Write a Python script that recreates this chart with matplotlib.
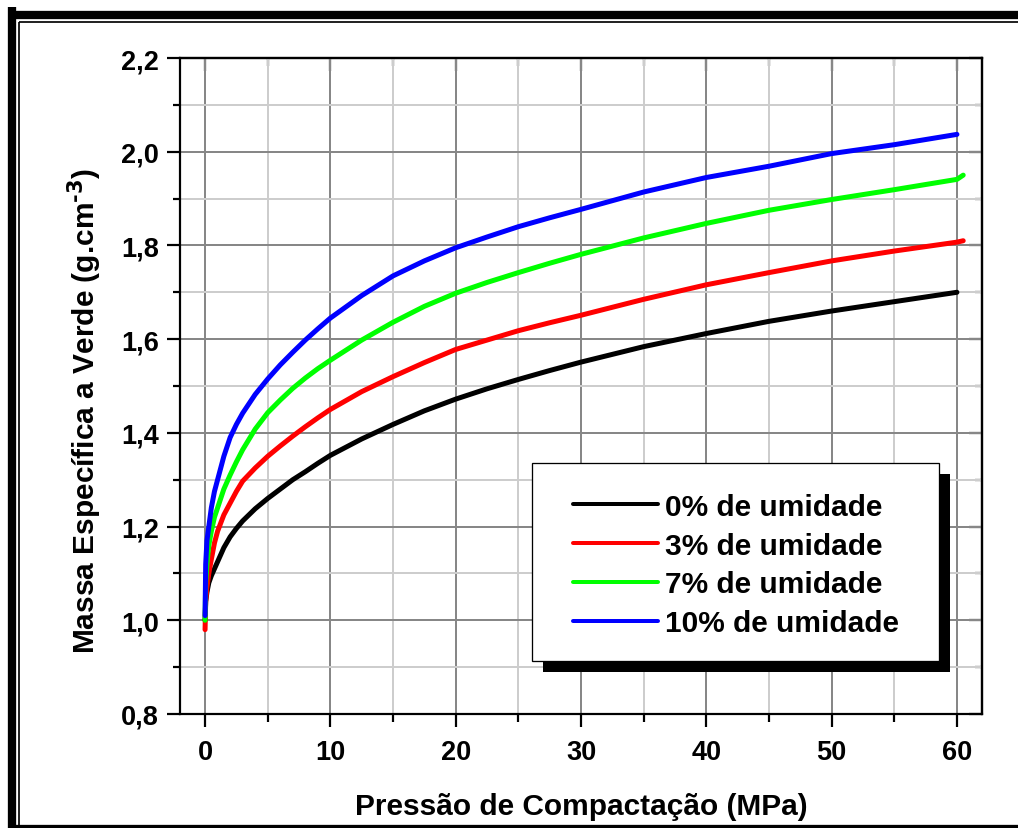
import matplotlib
matplotlib.use("Agg")
import matplotlib.pyplot as plt
from matplotlib.lines import Line2D
from matplotlib.patches import Rectangle
from matplotlib.ticker import MultipleLocator

# Compaction pressure (MPa) and green density (g/cm3) for each moisture content
pressure = [0, 0.05, 0.15, 0.3, 0.5, 0.75, 1, 1.5, 2, 2.5, 3, 4, 5, 6, 7, 8,
            9, 10, 12.5, 15, 17.5, 20, 22.5, 25, 27.5, 30, 35, 40, 45, 50, 55, 60]
dens_0 = [1.00, 1.04, 1.06, 1.08, 1.095, 1.11, 1.125, 1.155, 1.178, 1.196,
          1.212, 1.238, 1.26, 1.28, 1.30, 1.317, 1.335, 1.352, 1.387, 1.418,
          1.447, 1.472, 1.494, 1.514, 1.533, 1.551, 1.584, 1.612, 1.638, 1.66,
          1.68, 1.70]
dens_3 = [0.98, 1.04, 1.07, 1.10, 1.13, 1.165, 1.19, 1.225, 1.25, 1.275,
          1.297, 1.325, 1.35, 1.372, 1.393, 1.413, 1.432, 1.45, 1.488, 1.52,
          1.55, 1.578, 1.598, 1.618, 1.635, 1.651, 1.685, 1.716, 1.742, 1.767,
          1.788, 1.807]
dens_7 = [1.00, 1.08, 1.12, 1.16, 1.19, 1.22, 1.24, 1.28, 1.31, 1.338,
          1.364, 1.408, 1.443, 1.47, 1.495, 1.517, 1.537, 1.555, 1.598, 1.636,
          1.67, 1.698, 1.721, 1.742, 1.762, 1.781, 1.816, 1.847, 1.875, 1.898,
          1.919, 1.941]
dens_10 = [1.01, 1.12, 1.17, 1.20, 1.24, 1.275, 1.30, 1.35, 1.39, 1.418,
           1.442, 1.482, 1.515, 1.545, 1.572, 1.598, 1.622, 1.645, 1.693, 1.735,
           1.767, 1.795, 1.818, 1.84, 1.859, 1.877, 1.914, 1.945, 1.969, 1.996,
           2.015, 2.037]
# the 3% and 7% runs go slightly past 60 MPa
tail_pressure = 60.5
tail_3 = 1.81
tail_7 = 1.95

series_labels = ["0% de umidade", "3% de umidade", "7% de umidade", "10% de umidade"]
series_colors = ["#000000", "#ff0000", "#00ff00", "#0000ff"]

xticks = [0, 10, 20, 30, 40, 50, 60]
xtick_labels = ["0", "10", "20", "30", "40", "50", "60"]
yticks = [0.8, 1.0, 1.2, 1.4, 1.6, 1.8, 2.0, 2.2]
ytick_labels = ["0,8", "1,0", "1,2", "1,4", "1,6", "1,8", "2,0", "2,2"]

plt.rcParams["font.family"] = ["Liberation Sans", "DejaVu Sans"]
plt.rcParams["font.weight"] = "bold"
plt.rcParams["mathtext.default"] = "regular"

W, H = 1018, 829
fig = plt.figure(figsize=(W / 100, H / 100), dpi=100)
fig.patch.set_facecolor("white")

def px2fig(x, y):
    return x / W, 1 - y / H

def pt(px):
    return px * 72 / 100

# Page frame: heavy outer band with a thin rule inside it
band = pt(8.3)
thin = pt(1.7)
for (xa, ya), (xb, yb), lw in [
    ((12.2, 8), (12.2, 900), band),
    ((8, 15.8), (1100, 15.8), band),
    ((8, 829.8), (1100, 829.8), band),
    ((18.5, 22.8), (18.5, 900), thin),
    ((18.5, 22.8), (1100, 22.8), thin),
]:
    (fx0, fy0), (fx1, fy1) = px2fig(xa, ya), px2fig(xb, yb)
    fig.add_artist(Line2D([fx0, fx1], [fy0, fy1], color="black", lw=lw,
                          solid_capstyle="butt", clip_on=False))

left, right, top, bottom = 180, 982, 59, 715
ax = fig.add_axes([left / W, 1 - bottom / H, (right - left) / W, (bottom - top) / H])
ax.set_xlim(-2, 62)
ax.set_ylim(0.8, 2.2)

def ax_frac(x, y):
    return (x - left) / (right - left), (bottom - y) / (bottom - top)

curves = [
    (pressure, dens_0),
    (pressure + [tail_pressure], dens_3 + [tail_3]),
    (pressure + [tail_pressure], dens_7 + [tail_7]),
    (pressure, dens_10),
]
for (xs, ys), lab, col in zip(curves, series_labels, series_colors):
    ax.plot(xs, ys, color=col, lw=pt(5), solid_capstyle="round",
            solid_joinstyle="round", label=lab, zorder=3)

ax.set_xticks(xticks, labels=xtick_labels)
ax.set_yticks(yticks, labels=ytick_labels)
ax.xaxis.set_minor_locator(MultipleLocator(5))
ax.yaxis.set_minor_locator(MultipleLocator(0.1))
ax.grid(which="major", color="#878787", lw=pt(2), zorder=0)
ax.grid(which="minor", color="#cdcdcd", lw=pt(2), zorder=0)
ax.set_axisbelow(True)

for s in ax.spines.values():
    s.set_linewidth(pt(2.2))
ax.tick_params(which="major", direction="out", length=pt(13), width=pt(2.2),
               labelsize=19.5, pad=6)
ax.tick_params(which="minor", direction="out", length=pt(7.5), width=pt(2.2))
ax.tick_params(axis="x", which="major", pad=9)

# Inward ticks on the top and right frame
sec_x = ax.secondary_xaxis("top")
sec_x.set_xticks(xticks)
sec_x.xaxis.set_minor_locator(MultipleLocator(5))
sec_x.tick_params(which="major", direction="in", length=pt(13), width=pt(2.2), labeltop=False)
sec_x.tick_params(which="minor", direction="in", length=pt(7.5), width=pt(2.2))
sec_x.spines["top"].set_linewidth(pt(2.2))
sec_y = ax.secondary_yaxis("right")
sec_y.set_yticks(yticks)
sec_y.yaxis.set_minor_locator(MultipleLocator(0.1))
sec_y.tick_params(which="major", direction="in", length=pt(13), width=pt(2.2), labelright=False)
sec_y.tick_params(which="minor", direction="in", length=pt(7.5), width=pt(2.2))
sec_y.spines["right"].set_linewidth(pt(2.2))

ax.set_xlabel("Pressão de Compactação (MPa)", fontsize=21.5, fontweight="bold", labelpad=19)
ax.set_ylabel(r"Massa Específica a Verde (g.cm$^{\text{-3}}$)", fontsize=21.5, fontweight="bold")
ax.yaxis.set_label_coords(-0.096, 0.463)

# Legend box with a solid offset shadow
bx0, by0 = ax_frac(532, 662)
bx1, by1 = ax_frac(939, 464)
sx, sy = 10.5 / (right - left), 10.5 / (bottom - top)
ax.add_patch(Rectangle((bx0 + sx, by0 - sy), bx1 - bx0, by1 - by0,
                       transform=ax.transAxes, facecolor="black", edgecolor="none",
                       zorder=5.4, clip_on=False))
ax.add_patch(Rectangle((bx0, by0), bx1 - bx0, by1 - by0,
                       transform=ax.transAxes, facecolor="white", edgecolor="black",
                       lw=pt(1.3), zorder=5.5, clip_on=False))

leg = ax.legend(loc="center", bbox_to_anchor=ax_frac(736, 566),
                borderaxespad=0, borderpad=0, fontsize=21.5, frameon=False,
                handlelength=2.85, handletextpad=0.23, labelspacing=0.36)
leg.set_zorder(6)
for h in leg.legend_handles:
    h.set_linewidth(pt(4))
    h.set_solid_capstyle("round")
for t in leg.get_texts():
    t.set_fontweight("bold")

fig.savefig("out.png", dpi=100, facecolor="white")
